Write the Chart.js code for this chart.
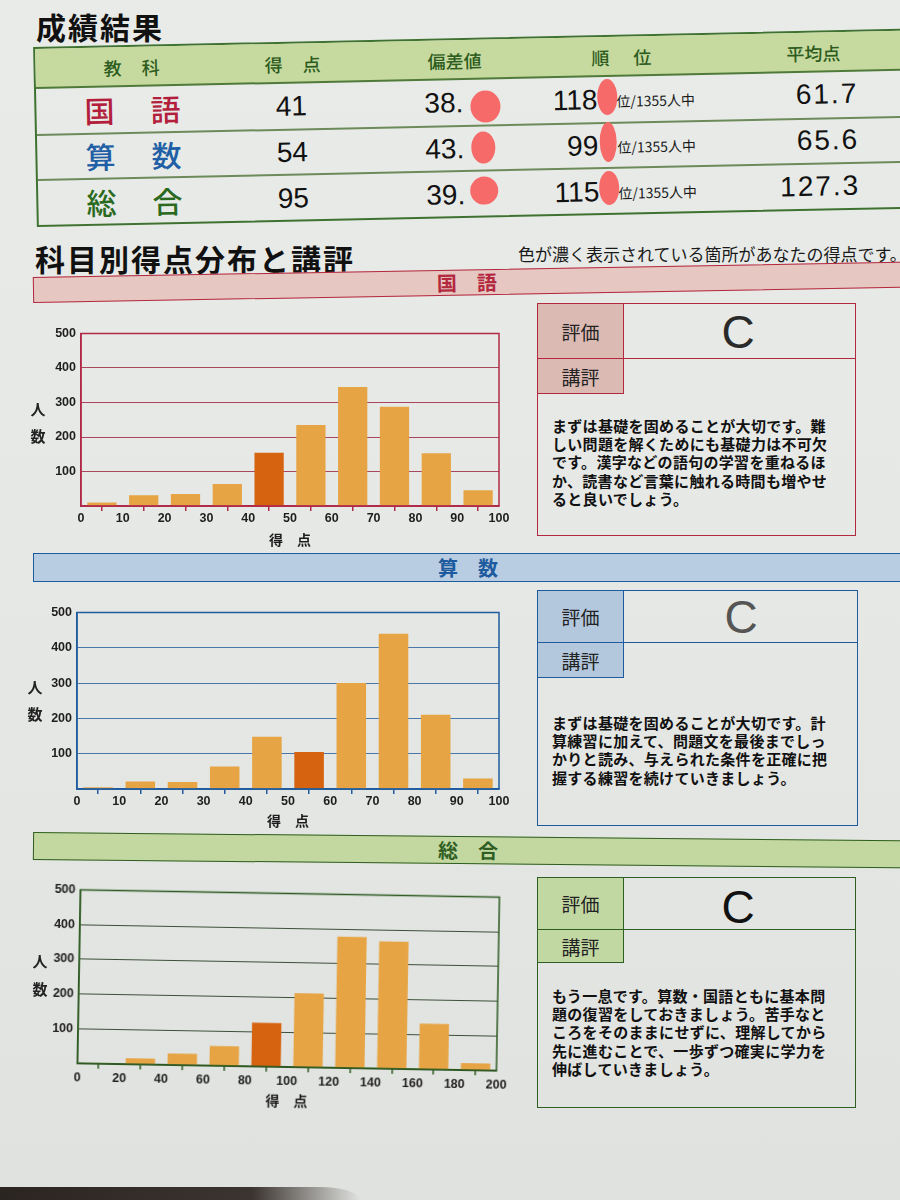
<!DOCTYPE html>
<html lang="ja">
<head>
<meta charset="utf-8">
<script src="https://cdn.jsdelivr.net/npm/chart.js@4.4.1/dist/chart.umd.min.js"></script>
<style>
*{box-sizing:border-box;}
html,body{margin:0;padding:0;}
body{width:900px;height:1200px;overflow:hidden;font-family:"Noto Sans CJK JP","Noto Sans",sans-serif;color:#1a1a1a;}
#page{position:relative;width:900px;height:1200px;overflow:hidden;
  background:linear-gradient(180deg,#e9ebe8 0%,#e6e8e5 50%,#e0e2df 100%);}
.abs{position:absolute;}
.cc{position:absolute;transform:translate(-50%,-50%);white-space:nowrap;line-height:1;}
.cl{position:absolute;transform:translate(0,-50%);white-space:nowrap;line-height:1;}
.cr{position:absolute;transform:translate(-100%,-50%);white-space:nowrap;line-height:1;}
.big{font-weight:700;font-size:30px;letter-spacing:2px;color:#111;}
.hd{font-size:18px;color:#2d5c20;font-weight:500;}
.subj{font-size:30px;font-weight:500;}
.num{font-family:"Liberation Sans",Arial,sans-serif;font-size:28px;color:#111;}
.blob{position:absolute;background:#f66a6a;border-radius:50%;transform:translate(-50%,-50%);}
.hline{position:absolute;left:0;width:900px;height:1.5px;background:#6d8a5a;}
.secbar{position:absolute;left:33px;width:900px;border:1.5px solid;}
.secbar span{position:absolute;top:50%;transform:translate(-50%,-50%);font-weight:700;font-size:20px;letter-spacing:20px;padding-left:20px;line-height:1;white-space:nowrap;}
.box{position:absolute;border:1.5px solid;}
.box .cell{position:absolute;left:0;width:86px;border-right:1.5px solid;border-bottom:1.5px solid;font-size:19px;display:flex;align-items:center;justify-content:center;color:#222;}
.box .sep{position:absolute;left:0;right:0;height:0;border-top:1.5px solid;}
.box .grade{position:absolute;transform:translate(-50%,-50%);font-family:"Liberation Sans",Arial,sans-serif;font-size:46px;color:#2a2a2a;line-height:1;}
.box .txt{position:absolute;left:14px;font-size:15px;line-height:18.2px;font-weight:700;letter-spacing:0.3px;color:#111;white-space:nowrap;}
.ylab{position:absolute;transform:translate(-50%,-50%);font-size:15px;font-weight:700;color:#222;line-height:1;}
.chartwrap{position:absolute;}
</style>
</head>
<body>
<div id="page">

<div class="cl big" style="left:36px;top:26px;">成績結果</div>

<!-- results table -->
<div id="tbl" class="abs" style="left:35px;top:47px;width:900px;height:180px;border:2px solid #3f7231;transform-origin:0 90px;transform:rotate(-1.2deg);">
  <div class="abs" style="left:0;top:0;width:900px;height:39px;background:#c6d99e;"></div>
  <div class="hline" style="top:38px;background:#4f7a3a;"></div>
  <div class="hline" style="top:85px;"></div>
  <div class="hline" style="top:130px;"></div>

  <div class="cc hd" style="left:96px;top:20px;letter-spacing:20px;padding-left:20px;">教科</div>
  <div class="cc hd" style="left:257px;top:20px;letter-spacing:20px;padding-left:20px;">得点</div>
  <div class="cc hd" style="left:419px;top:20px;">偏差値</div>
  <div class="cc hd" style="left:586px;top:20px;letter-spacing:24px;padding-left:24px;">順位</div>
  <div class="cc hd" style="left:778px;top:20px;">平均点</div>

  <div class="cc subj" style="left:63px;top:62px;color:#b21e3c;">国</div>
  <div class="cc subj" style="left:129px;top:62px;color:#b21e3c;">語</div>
  <div class="cc subj" style="left:63px;top:108px;color:#1f5fa6;">算</div>
  <div class="cc subj" style="left:129px;top:108px;color:#1f5fa6;">数</div>
  <div class="cc subj" style="left:63px;top:154px;color:#2a6a1f;">総</div>
  <div class="cc subj" style="left:129px;top:154px;color:#2a6a1f;">合</div>

  <div class="cc num" style="left:255px;top:63px;">41</div>
  <div class="cc num" style="left:255px;top:109px;">54</div>
  <div class="cc num" style="left:255px;top:155px;">95</div>

  <div class="cl num" style="left:388px;top:63px;">38.</div>
  <div class="cl num" style="left:388px;top:109px;">43.</div>
  <div class="cl num" style="left:388px;top:155px;">39.</div>

  <div class="cr num" style="left:561px;top:63px;">118</div>
  <div class="cr num" style="left:561px;top:109px;">99</div>
  <div class="cr num" style="left:561px;top:155px;">115</div>
  <div class="cl" style="left:580px;top:64px;font-size:14px;">位/1355人中</div>
  <div class="cl" style="left:580px;top:110px;font-size:14px;">位/1355人中</div>
  <div class="cl" style="left:580px;top:156px;font-size:14px;">位/1355人中</div>

  <div class="cr num" style="left:822px;top:62px;letter-spacing:2px;">61.7</div>
  <div class="cr num" style="left:822px;top:108px;letter-spacing:2px;">65.6</div>
  <div class="cr num" style="left:822px;top:154px;letter-spacing:2px;">127.3</div>

  <div class="blob" style="left:449px;top:67px;width:30px;height:32px;"></div>
  <div class="blob" style="left:446px;top:108px;width:24px;height:32px;"></div>
  <div class="blob" style="left:446px;top:151px;width:28px;height:28px;"></div>
  <div class="blob" style="left:571px;top:60px;width:20px;height:36px;"></div>
  <div class="blob" style="left:571px;top:105px;width:17px;height:40px;"></div>
  <div class="blob" style="left:571px;top:151px;width:20px;height:34px;"></div>
</div>

<div class="cl big" style="left:35px;top:258px;">科目別得点分布と講評</div>
<div class="cl" style="left:518px;top:253px;font-size:17px;color:#1a1a1a;">色が濃く表示されている箇所があなたの得点です。</div>

<!-- section bars -->
<div class="secbar" style="top:277px;height:26px;background:#e6c7c1;border-color:#b3283f;transform-origin:0 50%;transform:rotate(-1deg);"><span style="left:433px;color:#b3283f;">国語</span></div>
<div class="secbar" style="top:553px;height:29px;background:#b8cde2;border-color:#1e5b9e;"><span style="left:434px;color:#1e5b9e;">算数</span></div>
<div class="secbar" style="top:832px;height:28px;background:#c3d7a0;border-color:#2f5e22;transform-origin:0 50%;transform:rotate(0.55deg);"><span style="left:434px;color:#2f5e22;">総合</span></div>

<!-- charts -->
<div class="chartwrap" style="left:37px;top:321px;"><canvas id="c1" width="482" height="229"></canvas></div>
<div class="chartwrap" style="left:33px;top:600px;"><canvas id="c2" width="486" height="231"></canvas></div>
<div class="chartwrap" style="left:35px;top:881px;transform-origin:253px 98px;transform:rotate(1deg);"><canvas id="c3" width="483" height="230"></canvas></div>

<div class="ylab" style="left:38px;top:408px;">人</div>
<div class="ylab" style="left:38px;top:435px;">数</div>
<div class="ylab" style="left:35px;top:686px;">人</div>
<div class="ylab" style="left:35px;top:713px;">数</div>
<div class="ylab" style="left:40px;top:960px;">人</div>
<div class="ylab" style="left:40px;top:988px;">数</div>

<!-- comment boxes -->
<div class="box" style="left:537px;top:303px;width:319px;height:233px;border-color:#b3283f;">
  <div class="cell" style="top:0;height:55px;background:#dcbab4;border-color:#b3283f;">評価</div>
  <div class="sep" style="top:54px;border-color:#b3283f;"></div>
  <div class="cell" style="top:55px;height:35px;background:#dcbab4;border-color:#b3283f;">講評</div>
  <div class="grade" style="left:200px;top:28px;">C</div>
  <div class="txt" style="top:113px;">まずは基礎を固めることが大切です。難<br>しい問題を解くためにも基礎力は不可欠<br>です。漢字などの語句の学習を重ねるほ<br>か、読書など言葉に触れる時間も増やせ<br>ると良いでしょう。</div>
</div>

<div class="box" style="left:537px;top:590px;width:321px;height:236px;border-color:#1e5b9e;">
  <div class="cell" style="top:0;height:52px;background:#b3c8dd;border-color:#1e5b9e;">評価</div>
  <div class="sep" style="top:51px;border-color:#1e5b9e;"></div>
  <div class="cell" style="top:52px;height:35px;background:#b3c8dd;border-color:#1e5b9e;">講評</div>
  <div class="grade" style="left:203px;top:26px;color:#555;">C</div>
  <div class="txt" style="top:123px;">まずは基礎を固めることが大切です。計<br>算練習に加えて、問題文を最後までしっ<br>かりと読み、与えられた条件を正確に把<br>握する練習を続けていきましょう。</div>
</div>

<div class="box" style="left:537px;top:877px;width:319px;height:231px;border-color:#2f5e22;">
  <div class="cell" style="top:0;height:52px;background:#c2d8a3;border-color:#2f5e22;">評価</div>
  <div class="sep" style="top:51px;border-color:#2f5e22;"></div>
  <div class="cell" style="top:52px;height:33px;background:#c2d8a3;border-color:#2f5e22;">講評</div>
  <div class="grade" style="left:200px;top:29px;color:#111;">C</div>
  <div class="txt" style="top:109px;">もう一息です。算数・国語ともに基本問<br>題の復習をしておきましょう。苦手なと<br>ころをそのままにせずに、理解してから<br>先に進むことで、一歩ずつ確実に学力を<br>伸ばしていきましょう。</div>
</div>

<div class="abs" style="left:0;top:1187px;width:360px;height:13px;background:linear-gradient(90deg,#2b2522 0%,#3b3430 70%,rgba(60,52,48,0) 100%);border-top-right-radius:40px 13px;"></div>

</div>

<script>
// ---- data ----
const edges100 = [0, 10, 20, 30, 40, 50, 60, 70, 80, 90, 100];
const edges200 = [0, 20, 40, 60, 80, 100, 120, 140, 160, 180, 200];
const countTicks = [0, 100, 200, 300, 400, 500];

const kokugoCounts = [10, 31, 35, 64, 154, 235, 345, 288, 153, 46];
const sansuCounts  = [5, 21, 20, 64, 148, 105, 300, 440, 210, 30];
const sogoCounts   = [2, 17, 33, 57, 126, 213, 378, 367, 132, 20];

const kokugoScore = 41;
const sansuScore = 54;
const sogoScore = 95;

const xTitle = '得　点';

// ---- styles ----
const BAR = '#e6a444';
const BAR_MINE = '#d6630f';
const tickFont = {family: '"Liberation Sans", Arial, sans-serif', size: 12.5, weight: 'bold'};
const titleFont = {family: '"Noto Sans CJK JP", sans-serif', size: 14, weight: 'bold'};

const framePlugin = {
  id: 'frame',
  afterDraw(chart, args, opts) {
    const {ctx, chartArea: a} = chart;
    ctx.save();
    ctx.strokeStyle = opts.color;
    ctx.lineWidth = 1.5;
    ctx.strokeRect(a.left, a.top, a.right - a.left, a.bottom - a.top);
    ctx.restore();
  }
};

function makeChart(id, edges, counts, myScore, theme, dims) {
  const pts = counts.map((c, i) => ({x: (edges[i] + edges[i + 1]) / 2, y: c}));
  const colors = counts.map((c, i) => (myScore >= edges[i] && myScore < edges[i + 1]) ? BAR_MINE : BAR);
  return new Chart(document.getElementById(id), {
    type: 'bar',
    data: {datasets: [{data: pts, backgroundColor: colors, borderWidth: 0, barPercentage: 0.7, categoryPercentage: 1}]},
    options: {
      responsive: false, animation: false, devicePixelRatio: 1,
      layout: {padding: {top: 10, right: 20, bottom: 0, left: 0}},
      plugins: {legend: {display: false}, tooltip: {enabled: false}, frame: {color: theme.frame}},
      scales: {
        x: {
          type: 'linear', offset: false, min: edges[0], max: edges[edges.length - 1],
          afterBuildTicks: s => { s.ticks = edges.map(v => ({value: v})); },
          afterFit: s => { s.height = dims.xh; },
          grid: {drawOnChartArea: false, drawTicks: true, tickLength: 5, color: theme.frame, lineWidth: 1.5},
          border: {display: true, color: theme.frame, width: 1.5},
          ticks: {font: tickFont, color: '#1e1e1e', padding: dims.tp, maxRotation: 0, autoSkip: false},
          title: {display: true, text: xTitle, font: titleFont, color: '#1e1e1e', padding: {top: 0, bottom: 2}}
        },
        y: {
          min: countTicks[0], max: countTicks[countTicks.length - 1],
          afterBuildTicks: s => { s.ticks = countTicks.map(v => ({value: v})); },
          afterFit: s => { s.width = 44; },
          grid: {drawTicks: false, color: theme.grid, lineWidth: 1},
          border: {display: true, color: theme.frame, width: 1.5},
          ticks: {font: tickFont, color: '#1e1e1e', padding: 5, callback: v => v === 0 ? '' : v}
        }
      }
    },
    plugins: [framePlugin]
  });
}

makeChart('c1', edges100, kokugoCounts, kokugoScore, {frame: '#b02a48', grid: '#a8465e'}, {xh: 44, tp: 0});
makeChart('c2', edges100, sansuCounts, sansuScore, {frame: '#1f5c9f', grid: '#4a78aa'}, {xh: 42, tp: 0});
makeChart('c3', edges200, sogoCounts, sogoScore, {frame: '#2c5a20', grid: '#3c4e3a'}, {xh: 44, tp: 2});
</script>
</body>
</html>
